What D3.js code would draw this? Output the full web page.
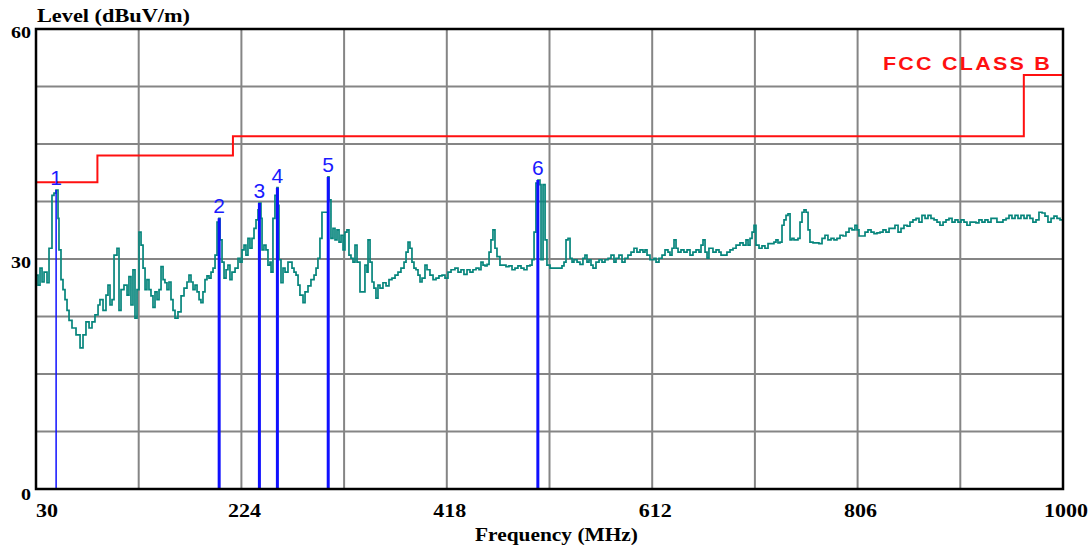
<!DOCTYPE html>
<html>
<head>
<meta charset="utf-8">
<script src="https://cdn.jsdelivr.net/npm/d3@7"></script>
<style>
  body { margin: 0; background: #fff; }
  svg { display: block; }
</style>
</head>
<body>
<div id="chart"></div>
<script>
// axis ticks
var xTicks = [30, 224, 418, 612, 806, 1000];
var yTicks = [0, 30, 60];

// FCC class B limit steps [start MHz, end MHz, dBuV/m]
var limitSteps = [
    [30, 88, 40],
    [88, 216, 43.5],
    [216, 963, 46],
    [963, 1000, 54]
];

// marked peaks
var peakFreq = [49, 203, 241, 258, 306, 504];
var peakLevel = [39.0, 35.3, 37.3, 39.3, 40.7, 40.3];
var peakLabels = ["1", "2", "3", "4", "5", "6"];

var trace = [
    [30.0,27.9],[31.9,26.6],[33.8,28.8],[35.7,27.0],[37.6,28.3],[40.4,26.9],[42.3,31.4],[44.2,31.4],
    [45.1,38.3],[47.0,38.6],[48.9,39.0],[50.8,35.3],[51.7,31.2],[53.6,27.3],[55.5,26.0],[57.4,24.7],
    [59.3,23.3],[61.2,22.0],[64.0,21.0],[67.8,20.1],[71.6,18.4],[74.4,20.1],[77.2,21.8],[80.1,21.0],
    [82.9,21.8],[85.7,22.7],[88.6,24.0],[90.4,24.7],[93.3,23.3],[96.1,25.3],[98.0,26.6],[99.9,24.0],
    [101.8,24.7],[103.7,30.5],[106.5,31.4],[108.4,23.3],[110.3,26.0],[113.1,26.6],[116.0,25.3],[117.8,27.7],
    [119.7,24.0],[121.6,28.6],[123.5,22.3],[125.4,26.0],[127.3,33.5],[129.2,31.8],[131.1,28.8],[133.0,26.0],
    [134.8,27.3],[136.7,26.0],[138.6,25.2],[140.5,23.7],[142.4,25.7],[144.3,24.7],[146.2,26.0],[148.1,29.0],
    [150.0,27.3],[151.8,26.9],[153.7,26.0],[155.6,27.0],[157.5,24.7],[159.4,23.3],[161.3,22.3],[164.1,23.1],
    [167.0,25.2],[169.8,26.2],[172.6,27.0],[174.5,27.9],[176.4,27.0],[178.3,26.0],[180.2,26.6],[182.1,25.7],
    [184.0,24.7],[185.8,24.3],[187.7,25.7],[189.6,27.3],[191.5,27.8],[193.4,27.5],[195.3,28.3],[197.2,28.8],
    [199.1,30.5],[201.0,34.8],[202.8,35.3],[203.8,32.5],[205.7,29.6],[207.6,27.5],[209.5,28.6],[211.3,29.2],
    [213.2,27.3],[215.1,28.3],[218.0,28.8],[220.8,30.1],[222.7,29.6],[224.6,31.2],[226.5,31.8],[228.3,30.5],
    [230.2,32.7],[232.1,31.4],[234.0,32.7],[235.9,34.0],[237.8,35.1],[239.7,36.4],[240.6,37.3],[242.5,35.3],
    [243.5,31.2],[245.3,31.8],[247.2,31.2],[249.1,29.2],[251.0,29.6],[252.0,28.3],[253.8,35.3],[255.7,38.3],
    [257.6,39.3],[258.6,37.0],[259.5,29.9],[261.4,26.9],[263.3,28.8],[265.2,28.3],[268.0,29.6],[269.9,29.6],
    [271.8,28.8],[273.7,28.3],[275.6,27.9],[277.5,26.6],[279.3,25.3],[282.2,24.3],[284.1,25.7],[286.9,26.5],
    [289.7,27.3],[292.6,27.9],[294.5,28.8],[296.3,30.1],[298.2,32.7],[300.1,36.1],[302.0,36.1],[303.9,36.1],
    [305.8,40.7],[306.7,37.7],[308.6,32.7],[310.5,34.0],[312.4,32.5],[314.3,33.8],[316.2,32.2],[318.1,33.1],
    [320.0,31.2],[321.8,33.5],[323.7,33.8],[325.6,30.5],[327.5,30.1],[329.4,29.6],[331.3,31.8],[333.2,29.6],
    [336.0,25.7],[338.9,25.7],[340.7,29.2],[342.6,28.3],[343.6,32.5],[345.5,29.6],[347.4,27.0],[349.2,26.2],
    [351.1,24.9],[353.0,26.6],[354.9,26.2],[357.7,26.9],[360.6,26.5],[363.4,27.3],[366.2,27.5],[369.1,27.9],
    [371.9,28.3],[374.7,28.8],[377.6,29.6],[379.5,30.9],[381.4,32.2],[383.2,31.4],[385.1,29.6],[387.0,28.8],
    [388.9,28.6],[390.8,27.9],[392.7,27.0],[394.6,27.5],[397.4,29.2],[399.3,28.6],[402.1,27.9],[405.0,27.3],
    [407.8,27.5],[410.6,27.8],[413.5,27.9],[416.3,27.5],[419.1,28.3],[422.0,28.6],[425.7,28.8],[428.6,28.3],
    [431.4,28.6],[434.2,28.0],[437.1,28.6],[439.9,28.3],[442.7,28.6],[445.6,28.8],[448.4,28.6],[450.3,29.6],
    [452.2,29.2],[454.1,29.1],[456.0,29.3],[457.9,30.9],[459.7,32.5],[461.6,33.8],[463.5,31.4],[465.4,30.3],
    [468.2,29.2],[471.1,29.2],[473.9,29.0],[476.7,29.1],[479.6,28.6],[482.4,28.8],[485.2,29.1],[488.1,28.8],
    [490.9,28.6],[493.7,29.1],[496.6,29.2],[498.5,29.9],[500.4,33.5],[502.2,39.9],[504.1,40.3],[506.0,39.7],
    [507.0,29.9],[508.9,39.7],[510.8,32.5],[512.6,29.2],[515.5,28.8],[518.3,28.8],[521.1,28.8],[524.0,28.8],
    [526.8,29.1],[528.7,29.6],[530.6,32.5],[532.5,32.7],[534.4,30.1],[536.3,29.6],[538.1,29.9],[541.0,29.6],
    [543.8,29.3],[546.6,30.1],[548.5,30.5],[550.4,29.6],[552.3,29.9],[554.2,29.2],[556.1,28.8],[558.9,29.6],
    [561.8,29.9],[564.6,29.6],[567.4,29.9],[570.3,30.1],[573.1,30.5],[575.9,29.6],[577.8,30.1],[580.6,30.5],
    [583.5,29.6],[586.3,30.1],[589.1,30.5],[592.0,30.9],[594.8,31.4],[597.6,30.9],[600.5,31.2],[603.3,30.9],
    [605.2,31.2],[607.1,30.5],[609.9,29.9],[613.7,30.1],[615.6,29.6],[618.4,30.1],[621.3,30.5],[624.1,31.2],
    [626.9,30.9],[628.8,30.5],[630.7,31.4],[632.6,32.5],[634.5,31.4],[636.4,30.9],[639.2,31.2],[642.0,30.9],
    [644.9,31.2],[647.7,30.5],[650.5,30.9],[653.4,31.2],[656.2,30.9],[658.1,31.8],[660.0,32.5],[661.9,30.9],
    [663.8,30.1],[665.6,31.4],[667.5,31.4],[669.4,30.9],[672.3,31.2],[675.1,30.9],[677.0,30.5],[679.8,30.5],
    [682.6,30.9],[685.5,31.2],[688.3,31.4],[691.2,31.8],[694.9,32.1],[697.8,31.8],[700.6,32.5],[702.5,31.8],
    [704.4,32.7],[706.3,33.5],[708.2,34.4],[710.0,31.8],[712.9,31.4],[715.7,31.7],[718.5,31.4],[721.4,32.0],
    [724.2,32.0],[727.0,32.2],[728.9,32.5],[730.8,32.1],[732.7,32.2],[734.6,34.4],[736.5,35.1],[738.4,35.7],
    [740.3,35.9],[742.2,32.5],[744.0,32.7],[745.9,32.5],[749.7,32.7],[751.6,34.8],[753.5,36.1],[755.4,36.4],
    [757.3,36.1],[759.2,33.8],[761.0,32.2],[763.9,32.1],[766.7,32.1],[769.5,32.0],[772.4,32.7],[775.2,33.1],
    [778.0,32.5],[780.9,32.7],[783.7,32.5],[786.5,32.7],[789.4,33.1],[792.2,33.0],[795.0,33.5],[797.9,34.0],
    [800.7,33.8],[803.5,34.4],[805.4,33.8],[807.3,33.0],[810.2,33.0],[813.0,33.5],[815.8,33.8],[818.7,33.5],
    [821.5,33.3],[824.3,33.4],[827.2,33.5],[830.0,33.8],[832.8,33.5],[835.7,34.0],[838.5,34.0],[841.3,34.4],
    [844.2,33.5],[847.0,34.0],[849.8,34.4],[852.7,34.3],[855.5,34.8],[858.3,35.1],[861.2,35.3],[864.0,34.8],
    [866.8,35.7],[869.7,35.3],[872.5,35.7],[875.3,35.3],[878.2,35.1],[881.0,34.8],[883.8,34.4],[886.7,34.8],
    [889.5,35.1],[892.3,35.3],[895.2,34.8],[898.0,35.1],[900.8,34.8],[903.7,35.1],[906.5,34.8],[909.3,34.4],
    [912.2,34.8],[915.0,34.8],[917.8,34.7],[920.6,35.1],[923.5,34.8],[926.3,35.1],[929.1,34.8],[932.0,35.3],
    [934.8,35.3],[937.6,34.8],[940.5,34.8],[943.3,35.1],[946.2,35.3],[949.0,35.7],[951.8,35.3],[954.7,35.7],
    [957.5,35.3],[960.3,35.7],[963.2,35.3],[966.0,35.7],[968.8,35.3],[971.6,34.8],[974.5,35.1],[977.3,36.1],
    [980.2,36.0],[983.0,35.6],[985.8,34.8],[988.7,35.3],[991.5,35.6],[994.3,35.3],[997.2,35.1],[1000.0,35.3]
];

var width = 1091, height = 548;
var mLeft = 36, mRight = 1063, mTop = 29, mBottom = 489;
var serif = "'Liberation Serif', 'DejaVu Serif', serif";
var sans = "'Liberation Sans', Arial, sans-serif";

var svg = d3.select("#chart").append("svg")
    .attr("width", width)
    .attr("height", height);

var x = d3.scaleLinear().domain([30, 1000]).range([mLeft, mRight]);
var y = d3.scaleLinear().domain([0, 60]).range([mBottom, mTop]);

// grid: 10 columns, 8 rows
var grid = svg.append("g").attr("stroke", "#858585").attr("stroke-width", 2);
grid.selectAll(".v").data(d3.range(1, 10)).enter().append("line")
    .attr("x1", d => x(30 + d * 97)).attr("x2", d => x(30 + d * 97))
    .attr("y1", mTop).attr("y2", mBottom);
grid.selectAll(".h").data(d3.range(1, 8)).enter().append("line")
    .attr("x1", mLeft).attr("x2", mRight)
    .attr("y1", d => y(d * 7.5)).attr("y2", d => y(d * 7.5));

// limit line
var limitPts = [];
limitSteps.forEach(function(s) {
    limitPts.push([s[0], s[2]]);
    limitPts.push([s[1], s[2]]);
});
svg.append("path")
    .datum(limitPts)
    .attr("fill", "none")
    .attr("stroke", "#ff1010")
    .attr("stroke-width", 2)
    .attr("d", d3.line().x(d => x(d[0])).y(d => y(d[1])));

// trace
svg.append("path")
    .datum(trace)
    .attr("fill", "none")
    .attr("stroke", "#06857c")
    .attr("stroke-width", 1.7)
    .attr("d", d3.line().curve(d3.curveStepAfter).x(d => x(d[0])).y(d => y(d[1])));

// peak markers
svg.selectAll(".peak").data(peakFreq).enter().append("line")
    .attr("x1", d => x(d)).attr("x2", d => x(d))
    .attr("y1", y(0))
    .attr("y2", (d, i) => y(peakLevel[i]))
    .attr("stroke", "#1010ff")
    .attr("stroke-width", (d, i) => i === 0 ? 1.5 : 3);
svg.selectAll(".plabel").data(peakFreq).enter().append("text")
    .attr("x", d => x(d))
    .attr("y", (d, i) => y(peakLevel[i]) - 5)
    .attr("text-anchor", "middle")
    .attr("font-family", sans)
    .attr("font-size", 21)
    .attr("fill", "#1a1aff")
    .text((d, i) => peakLabels[i]);

// frame
svg.append("rect")
    .attr("x", mLeft).attr("y", mTop)
    .attr("width", mRight - mLeft).attr("height", mBottom - mTop)
    .attr("fill", "none")
    .attr("stroke", "#000")
    .attr("stroke-width", 2.5);

// tick labels
svg.selectAll(".xt").data(xTicks).enter().append("text")
    .attr("x", (d, i) => i === 0 ? mLeft + 11 : x(d) + 3)
    .attr("y", 517)
    .attr("text-anchor", "middle")
    .attr("font-family", serif)
    .attr("font-weight", "bold")
    .attr("font-size", 18)
    .attr("textLength", d => String(d).length * 11)
    .attr("lengthAdjust", "spacingAndGlyphs")
    .text(d => d);
svg.selectAll(".yt").data(yTicks).enter().append("text")
    .attr("x", 31)
    .attr("y", d => d === 0 ? y(d) + 11 : y(d) + 9)
    .attr("text-anchor", "end")
    .attr("font-family", serif)
    .attr("font-weight", "bold")
    .attr("font-size", 17)
    .attr("textLength", d => String(d).length * 10)
    .attr("lengthAdjust", "spacingAndGlyphs")
    .text(d => d);

// titles
svg.append("text")
    .attr("x", 37).attr("y", 22)
    .attr("font-family", serif)
    .attr("font-weight", "bold")
    .attr("font-size", 19)
    .attr("textLength", 153)
    .attr("lengthAdjust", "spacingAndGlyphs")
    .text("Level (dBuV/m)");
svg.append("text")
    .attr("x", 475).attr("y", 541)
    .attr("font-family", serif)
    .attr("font-weight", "bold")
    .attr("font-size", 19)
    .attr("textLength", 163)
    .attr("lengthAdjust", "spacingAndGlyphs")
    .text("Frequency (MHz)");

svg.append("text")
    .attr("x", 883).attr("y", 70)
    .attr("font-family", sans)
    .attr("font-weight", "bold")
    .attr("font-size", 19)
    .attr("letter-spacing", 2)
    .attr("fill", "#ff1010")
    .attr("textLength", 169)
    .attr("lengthAdjust", "spacingAndGlyphs")
    .text("FCC CLASS B");
</script>
</body>
</html>
